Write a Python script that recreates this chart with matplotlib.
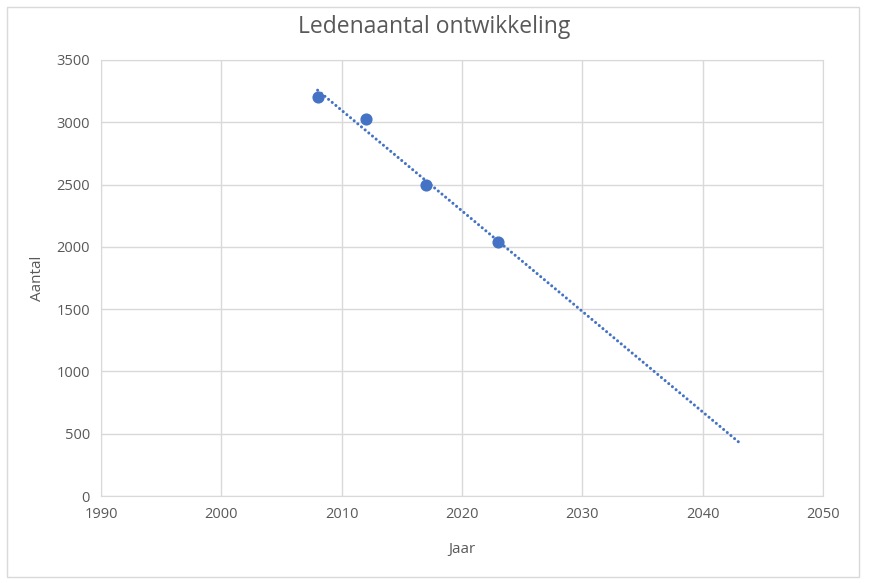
import numpy as np
import matplotlib.pyplot as plt
from matplotlib.patches import Rectangle

# ledenaantal per jaar
jaren = [2008, 2012, 2017, 2023]
leden = [3200, 3030, 2500, 2040]
trend_tot = 2043

plt.rcParams['font.family'] = ['Open Sans', 'DejaVu Sans']

fig = plt.figure(figsize=(8.69, 5.83), dpi=100)
ax = fig.add_axes([0.1162, 0.1492, 0.8309, 0.7479])

# lineaire trendlijn
coef = np.polyfit(jaren, leden, 1)
tx = np.array([jaren[0], trend_tot])
ax.plot(tx, np.polyval(coef, tx), color='#4472C4', lw=2.2, ls=(0, (0.01, 1.55)),
        dash_capstyle='round', zorder=3)
ax.scatter(jaren, leden, s=60, color='#4472C4', zorder=4)

ax.set_xlim(1990, 2050)
ax.set_ylim(0, 3500)
ax.set_xticks(range(1990, 2051, 10))
ax.set_yticks(range(0, 3501, 500))
ax.grid(True, color='#d9d9d9', lw=1)
ax.set_axisbelow(True)
for s in ax.spines.values():
    s.set_color('#d9d9d9')
ax.tick_params(length=0, colors='#595959', labelsize=10.5, pad=8)

fig.text(0.5, 1 - 27 / 583, 'Ledenaantal ontwikkeling', fontsize=16.5, color='#595959',
         ha='center', va='center')
ax.set_xlabel('Jaar', fontsize=11, color='#595959', labelpad=14)
ax.set_ylabel('Aantal', fontsize=11, color='#595959', labelpad=8)

fig.patches.append(Rectangle((7 / 869, 6 / 583), 852 / 869, 570 / 583, transform=fig.transFigure,
                             fill=False, edgecolor='#d9d9d9', lw=1))

fig.savefig('out.png', dpi=100)
